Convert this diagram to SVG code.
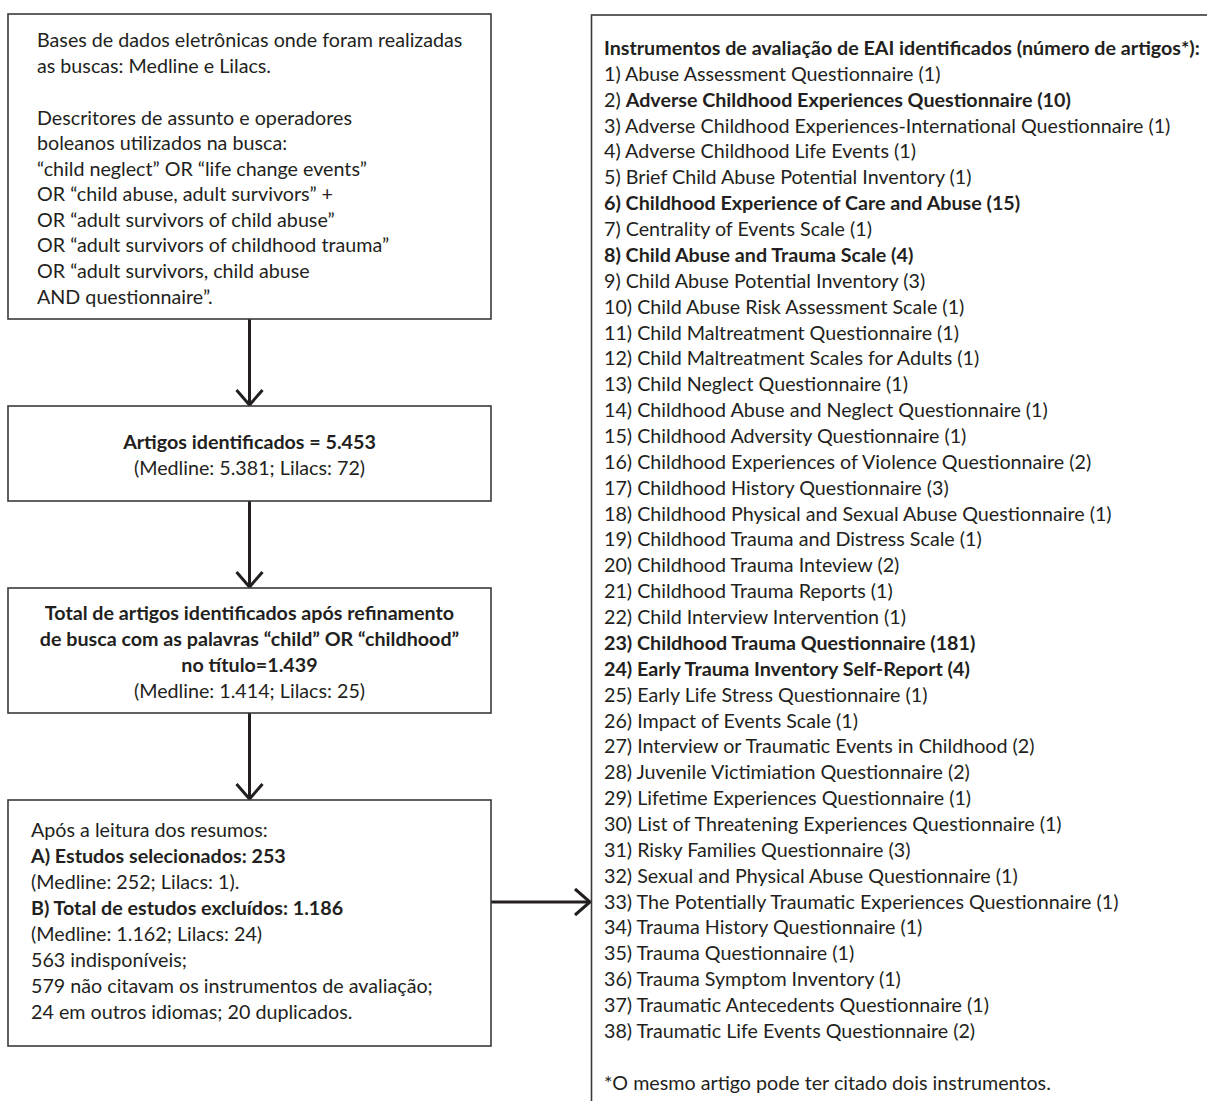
<svg xmlns="http://www.w3.org/2000/svg" width="1207" height="1101" viewBox="0 0 1207 1101">
<style>
.box{fill:#fff;stroke:#3a3a3a;stroke-width:1.6}
.t{font-family:Lato,"Open Sans",sans-serif;font-size:19.7px;fill:#231f20}
.b{font-weight:bold}
.c{text-anchor:middle}
.con{stroke:#231f20;stroke-width:3;fill:none}
</style>
<defs>
<marker id="chev" markerUnits="userSpaceOnUse" viewBox="-18 -16 20 32" refX="0" refY="0" markerWidth="20" markerHeight="32" orient="auto">
<path d="M-15,-13 L0,0 L-15,13" fill="none" stroke="#231f20" stroke-width="3"/>
</marker>
</defs>
<rect width="1207" height="1101" fill="#fff"/>
<g id="connectors">
<line class="con" x1="249.5" y1="319" x2="249.5" y2="405" marker-end="url(#chev)"/>
<line class="con" x1="249.5" y1="501" x2="249.5" y2="587" marker-end="url(#chev)"/>
<line class="con" x1="249.5" y1="713" x2="249.5" y2="799" marker-end="url(#chev)"/>
<line class="con" x1="491" y1="902" x2="590" y2="902" marker-end="url(#chev)"/>
</g>
<g id="node-search">
<rect class="box" x="8" y="14" width="483" height="305"/>
<text class="t">
<tspan x="37" y="47">Bases de dados eletrônicas onde foram realizadas</tspan>
<tspan x="37" y="73">as buscas: Medline e Lilacs.</tspan>
<tspan x="37" y="125">Descritores de assunto e operadores</tspan>
<tspan x="37" y="150">boleanos utilizados na busca:</tspan>
<tspan x="37" y="176">“child neglect” OR “life change events”</tspan>
<tspan x="37" y="201">OR “child abuse, adult survivors” +</tspan>
<tspan x="37" y="227">OR “adult survivors of child abuse”</tspan>
<tspan x="37" y="252">OR “adult survivors of childhood trauma”</tspan>
<tspan x="37" y="278">OR “adult survivors, child abuse</tspan>
<tspan x="37" y="304">AND questionnaire”.</tspan>
</text>
</g>
<g id="node-identified">
<rect class="box" x="8" y="406" width="483" height="95"/>
<text class="t b c" x="249.5" y="449">Artigos identificados = 5.453</text>
<text class="t c" x="249.5" y="475">(Medline: 5.381; Lilacs: 72)</text>
</g>
<g id="node-refined">
<rect class="box" x="8" y="588" width="483" height="125"/>
<text class="t b c" x="249.5" y="620">Total de artigos identificados após refinamento</text>
<text class="t b c" x="249.5" y="646">de busca com as palavras “child” OR “childhood”</text>
<text class="t b c" x="249.5" y="672">no título=1.439</text>
<text class="t c" x="249.5" y="698">(Medline: 1.414; Lilacs: 25)</text>
</g>
<g id="node-abstracts">
<rect class="box" x="8" y="800" width="483" height="246"/>
<text class="t">
<tspan x="31" y="837">Após a leitura dos resumos:</tspan>
<tspan x="31" y="863" font-weight="bold">A) Estudos selecionados: 253</tspan>
<tspan x="31" y="889">(Medline: 252; Lilacs: 1).</tspan>
<tspan x="31" y="915" font-weight="bold">B) Total de estudos excluídos: 1.186</tspan>
<tspan x="31" y="941">(Medline: 1.162; Lilacs: 24)</tspan>
<tspan x="31" y="967">563 indisponíveis;</tspan>
<tspan x="31" y="993">579 não citavam os instrumentos de avaliação;</tspan>
<tspan x="31" y="1019">24 em outros idiomas; 20 duplicados.</tspan>
</text>
</g>
<g id="node-instruments">
<rect class="box" x="591.5" y="15" width="700" height="1200"/>
<text class="t">
<tspan x="604" y="55" font-weight="bold">Instrumentos de avaliação de EAI identificados (número de artigos*):</tspan>
<tspan x="604" y="81">1) Abuse Assessment Questionnaire (1)</tspan>
<tspan x="604" y="107">2) <tspan font-weight="bold">Adverse Childhood Experiences Questionnaire (10)</tspan></tspan>
<tspan x="604" y="133">3) Adverse Childhood Experiences-International Questionnaire (1)</tspan>
<tspan x="604" y="158">4) Adverse Childhood Life Events (1)</tspan>
<tspan x="604" y="184">5) Brief Child Abuse Potential Inventory (1)</tspan>
<tspan x="604" y="210" font-weight="bold">6) Childhood Experience of Care and Abuse (15)</tspan>
<tspan x="604" y="236">7) Centrality of Events Scale (1)</tspan>
<tspan x="604" y="262" font-weight="bold">8) Child Abuse and Trauma Scale (4)</tspan>
<tspan x="604" y="288">9) Child Abuse Potential Inventory (3)</tspan>
<tspan x="604" y="314">10) Child Abuse Risk Assessment Scale (1)</tspan>
<tspan x="604" y="340">11) Child Maltreatment Questionnaire (1)</tspan>
<tspan x="604" y="365">12) Child Maltreatment Scales for Adults (1)</tspan>
<tspan x="604" y="391">13) Child Neglect Questionnaire (1)</tspan>
<tspan x="604" y="417">14) Childhood Abuse and Neglect Questionnaire (1)</tspan>
<tspan x="604" y="443">15) Childhood Adversity Questionnaire (1)</tspan>
<tspan x="604" y="469">16) Childhood Experiences of Violence Questionnaire (2)</tspan>
<tspan x="604" y="495">17) Childhood History Questionnaire (3)</tspan>
<tspan x="604" y="521">18) Childhood Physical and Sexual Abuse Questionnaire (1)</tspan>
<tspan x="604" y="546">19) Childhood Trauma and Distress Scale (1)</tspan>
<tspan x="604" y="572">20) Childhood Trauma Inteview (2)</tspan>
<tspan x="604" y="598">21) Childhood Trauma Reports (1)</tspan>
<tspan x="604" y="624">22) Child Interview Intervention (1)</tspan>
<tspan x="604" y="650" font-weight="bold">23) Childhood Trauma Questionnaire (181)</tspan>
<tspan x="604" y="676" font-weight="bold">24) Early Trauma Inventory Self-Report (4)</tspan>
<tspan x="604" y="702">25) Early Life Stress Questionnaire (1)</tspan>
<tspan x="604" y="728">26) Impact of Events Scale (1)</tspan>
<tspan x="604" y="753">27) Interview or Traumatic Events in Childhood (2)</tspan>
<tspan x="604" y="779">28) Juvenile Victimiation Questionnaire (2)</tspan>
<tspan x="604" y="805">29) Lifetime Experiences Questionnaire (1)</tspan>
<tspan x="604" y="831">30) List of Threatening Experiences Questionnaire (1)</tspan>
<tspan x="604" y="857">31) Risky Families Questionnaire (3)</tspan>
<tspan x="604" y="883">32) Sexual and Physical Abuse Questionnaire (1)</tspan>
<tspan x="604" y="909">33) The Potentially Traumatic Experiences Questionnaire (1)</tspan>
<tspan x="604" y="934">34) Trauma History Questionnaire (1)</tspan>
<tspan x="604" y="960">35) Trauma Questionnaire (1)</tspan>
<tspan x="604" y="986">36) Trauma Symptom Inventory (1)</tspan>
<tspan x="604" y="1012">37) Traumatic Antecedents Questionnaire (1)</tspan>
<tspan x="604" y="1038">38) Traumatic Life Events Questionnaire (2)</tspan>
<tspan x="604" y="1090">*O mesmo artigo pode ter citado dois instrumentos.</tspan>
</text>
</g>
</svg>
